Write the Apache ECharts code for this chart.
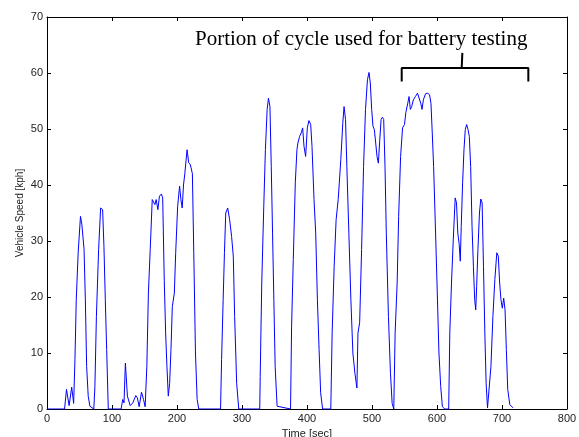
<!DOCTYPE html>
<html>
<head>
<meta charset="utf-8">
<script src="https://cdn.jsdelivr.net/npm/echarts@6/dist/echarts.min.js"></script>
<style>
  html, body { margin: 0; padding: 0; background: #fff; }
  #chart { width: 579px; height: 437px; }
</style>
</head>
<body>
<div id="chart"></div>
<script>
// drive cycle
const timeSec = [
  0, 27, 30, 34, 38, 41, 43, 45, 48, 51.5, 53.6, 57, 59, 61, 63.4, 66, 72,
  73.7, 76, 79.4, 82.5, 85.6, 87.6, 89.7, 91.8, 94.3, 114,
  116.5, 118.5, 120.6, 122, 123.7, 128, 132, 136.6, 139, 141.8, 145.4, 148.5, 151,
  153.6, 156, 158.8, 161.9, 164, 166, 168, 170.6, 173, 176, 178, 180.4, 182.5,
  184.5, 186.6, 188.7, 190.7, 192.8, 195.9, 198, 201, 204, 206, 208, 210, 212,
  215.5, 218, 220.6, 223.7, 225.8, 228.4, 231, 233.5, 267,
  268.6, 271, 273, 275, 278, 281, 284, 286.6, 288.7, 291.8, 295, 327.3,
  328, 330.4, 333.5, 336, 338.7, 340.7, 343, 345, 347, 349, 351, 354, 374.7,
  376.3, 378.9, 382, 384.5, 386, 388.7, 391.2, 393.3, 395.4, 397.9, 400.5, 403,
  405.7, 407.7, 410.8, 413.4, 416, 418.6, 421, 424, 436.6,
  438.7, 441.8, 444.8, 448, 450, 452, 455, 457, 459.3, 461.3, 464.4, 467.5,
  470.6, 473.7, 476.8, 478.4, 481, 484, 487, 490, 493, 495.4, 497.4, 499.5,
  501.5, 503.6, 505.7, 507.7, 509.8, 511.9, 514, 516, 518, 520, 522, 525.3,
  528.4, 531, 533.5, 535.6, 538.7, 541, 544, 547, 550, 552, 555, 557, 559, 561,
  563.7, 566.8, 570, 573, 575, 577, 579, 582.4, 585.5, 588.6, 590.7, 592.7,
  594.8, 596.9, 600, 603, 605.7, 608.3, 612, 618,
  619.7, 622.3, 625, 628, 630, 632, 634, 635.8, 637.3, 639.4, 641.5, 643.5,
  645.6, 647.7, 649.7, 651.8, 653.9, 656, 658, 659.6, 661, 663, 665.3, 667.4,
  669.4, 671.5, 673.6, 675.6, 677.7, 680,
  683, 686, 689, 692, 694.3, 696.4, 698.4, 700.5, 702.6, 704.7, 706.7, 708.8,
  712, 717
]
const speedKph = [
  0, 0, 3.5, 0.6, 3.9, 1, 8.8, 19.5, 28, 34.4, 33, 28.5, 19.5, 7.6, 2.3, 0.5, 0,
  4, 16.5, 28.5, 35.9, 35.6, 29, 19.5, 10.6, 0, 0,
  1.7, 1.1, 8.2, 8.2, 2.3, 0.6, 1.1, 2.4, 2, 0.4, 3, 1.7, 0.4,
  7.6, 20.7, 28.5, 37.4, 37.7, 36.5, 37.4, 35.6, 38, 38.4, 37.7, 23, 13.6,
  7.6, 2.3, 4.6, 10.6, 18.3, 20.7, 27.9, 36.2, 39.8, 37.4, 35.9, 40, 42,
  46.3, 44, 43.6, 42, 27.9, 10, 1.7, 0, 0,
  8.8, 19.5, 27.9, 35, 35.9, 33.8, 30.8, 27.3, 16.5, 4.6, 0, 0,
  5.8, 22.5, 36.2, 46.3, 53.5, 55.5, 54, 43.3, 31.4, 19.5, 7.6, 0.5, 0,
  14.8, 26.7, 40.4, 46.3, 47.5, 48.7, 49.3, 50.2, 46.9, 45.1, 50.2, 51.5,
  50.8, 46.9, 37.4, 31.4, 19.5, 10.6, 2.9, 0, 0,
  13.6, 25.5, 33.8, 37.4, 37.7, 44.5, 51, 54, 51.7, 43.3, 31.4, 19.5,
  10, 6.4, 3.75, 13.6, 15.4, 28.5, 43.3, 53.5, 58.8, 60.1, 58.2, 53.5,
  50.5, 49.9, 47.5, 45.1, 43.9, 48, 51.7, 52.1, 51.7, 43.3, 31.4, 16.5,
  6.4, 1, 0, 13.6, 22.5, 34.4, 45.1, 50.2, 50.8, 52.9, 54.6, 55.8, 53.5, 54,
  55.2, 55.8, 56.4, 56.4, 54.6, 53.5, 55.2, 56.3, 56.4, 56.1, 54.6, 49.3,
  43.3, 35, 22.5, 10, 4, 0.4, 0, 0,
  13.6, 22.5, 30.2, 37.7, 36.8, 31.4, 29.6, 26.4, 32.6, 40.4, 46.3, 49.9,
  50.8, 49.9, 48.7, 43.3, 32.6, 25.5, 19.5, 17.7, 21.9, 28.5, 35, 37.5,
  36.8, 25.5, 13.6, 4.6, 0.2, 0,
  7.6, 16.5, 23.1, 27.9, 27.3, 22.5, 19.5, 18, 19.8, 17.7, 10.6, 3.5,
  0.8, 0.2
]

// bracket marking the battery test window
const bracketTime = [545.7, 545.7, 740.5, 740.5]
const bracketSpeed = [58.5, 60.9, 60.9, 58.5]
const stemTime = [638, 639]
const stemSpeed = [60.9, 63.6]

const xTicks = { min: 0, max: 800, interval: 100 }
const yTicks = { min: 0, max: 70, interval: 10 }

const zip = (xs, ys) => xs.map((x, i) => [x, ys[i]])

const axisFont = { color: '#222', fontSize: 11, fontFamily: 'Liberation Sans, Arial, sans-serif' }
const blackLine = { lineStyle: { color: '#000', width: 1 } }

const chart = echarts.init(document.getElementById('chart'))

chart.setOption({
  animation: false,
  grid: { left: 47, right: 12, top: 17, bottom: 28, containLabel: false, outerBoundsMode: 'none' },
  xAxis: [
    {
      type: 'value',
      ...xTicks,
      name: 'Time [sec]',
      nameLocation: 'middle',
      nameGap: 17,
      nameTextStyle: { ...axisFont, fontSize: 11 },
      axisLine: { show: true, onZero: false, ...blackLine },
      axisTick: { show: true, inside: true, length: 4, ...blackLine },
      axisLabel: { ...axisFont, margin: 4 },
      splitLine: { show: false }
    },
    {
      type: 'value',
      position: 'top',
      ...xTicks,
      axisLine: { show: true, onZero: false, ...blackLine },
      axisTick: { show: true, inside: true, length: 4, ...blackLine },
      axisLabel: { show: false },
      splitLine: { show: false }
    }
  ],
  yAxis: [
    {
      type: 'value',
      ...yTicks,
      name: 'Vehicle Speed [kph]',
      nameLocation: 'middle',
      nameGap: 22,
      nameMoveOverlap: false,
      nameTextStyle: { ...axisFont, fontSize: 10 },
      axisLine: { show: true, onZero: false, ...blackLine },
      axisTick: { show: true, inside: true, length: 4, ...blackLine },
      axisLabel: { ...axisFont, margin: 4 },
      splitLine: { show: false }
    },
    {
      type: 'value',
      position: 'right',
      ...yTicks,
      axisLine: { show: true, onZero: false, ...blackLine },
      axisTick: { show: true, inside: true, length: 4, ...blackLine },
      axisLabel: { show: false },
      splitLine: { show: false }
    }
  ],
  series: [
    {
      name: 'speed',
      type: 'line',
      data: zip(timeSec, speedKph),
      showSymbol: false,
      lineStyle: { color: '#0000ff', width: 1 },
      silent: true
    },
    {
      name: 'bracket',
      type: 'line',
      data: zip(bracketTime, bracketSpeed),
      showSymbol: false,
      lineStyle: { color: '#000', width: 2 },
      silent: true
    },
    {
      name: 'stem',
      type: 'line',
      data: zip(stemTime, stemSpeed),
      showSymbol: false,
      lineStyle: { color: '#000', width: 2 },
      silent: true
    }
  ],
  graphic: [
    {
      type: 'text',
      left: 195,
      top: 29,
      style: {
        text: 'Portion of cycle used for battery testing',
        fill: '#000',
        font: '21px "Liberation Serif", "Times New Roman", serif'
      }
    }
  ]
})
</script>
</body>
</html>
